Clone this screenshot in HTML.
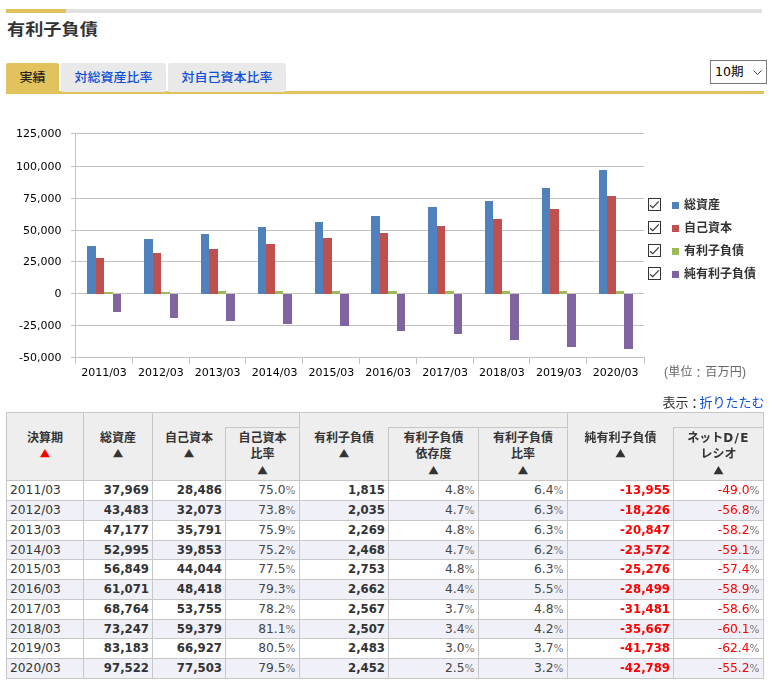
<!DOCTYPE html><html lang="ja"><head><meta charset="utf-8"><title>有利子負債</title><style>
html,body{margin:0;padding:0;background:#fff;}
body{width:772px;height:692px;position:relative;overflow:hidden;font-family:"Liberation Sans","Noto Sans CJK JP",sans-serif;color:#333;}
.abs{position:absolute;}
#bar{left:6px;top:9px;width:756px;height:4px;background:#e1e1e1;}
#bar i{display:block;width:60px;height:4px;background:#e2c25c;}
h2{position:absolute;left:7px;top:15.2px;margin:0;font:bold 18px/26px "Noto Sans CJK JP",sans-serif;color:#333;white-space:nowrap;transform:scale(1.01,0.88);transform-origin:0 50%;}
#tabs{margin:0;padding:0;list-style:none;left:6px;top:63px;width:758px;height:28px;border-bottom:3px solid #e2c25c;}
.tab{position:absolute;top:0;height:29px;line-height:28px;font-size:13px;font-weight:500;text-align:center;background:#e9e9e9;color:#0d4ed6;border-radius:2px;white-space:nowrap;font-family:"Noto Sans CJK JP",sans-serif;}
.tab a,.tab span{display:inline-block;transform:scaleY(0.93);transform-origin:50% 75%;}
.tab.on{background:#e2c25c;color:#222;border-radius:2px 2px 0 0;}
#sel{left:710px;top:60px;width:55px;height:22px;border:1px solid #767676;background:#fff;font:12.5px/21px "DejaVu Sans","Noto Sans CJK JP",sans-serif;color:#000;white-space:nowrap;}
#sel span{position:absolute;left:4px;top:0;}
#sel svg{position:absolute;left:42px;top:9px;}
svg text{font-family:"DejaVu Sans","Liberation Sans",sans-serif;font-size:11px;fill:#000;}
.lg{will-change:transform;position:absolute;left:684px;font:bold 12px/16px "Noto Sans CJK JP",sans-serif;color:#333;white-space:nowrap;}
.cb{position:absolute;left:648px;width:11px;height:11px;border:1px solid #333;background:#fff;}
.sq{position:absolute;left:672px;width:7px;height:7px;}
#unit{left:664px;top:363px;font:12px/18px "Liberation Sans","Noto Sans CJK JP",sans-serif;color:#666;white-space:nowrap;letter-spacing:0.3px;}
#disp{right:7.5px;top:392px;font:13px/19px "Noto Sans CJK JP",sans-serif;color:#333;white-space:nowrap;}
#disp a{color:#0d4ed6;text-decoration:none;}
#disp i,#unit i{font-style:normal;position:relative;top:1px;left:0.5px;margin:0 -1px;}
#unit i{margin:0;left:-0.5px;top:1.5px;}
#tbl{display:block;left:6px;top:412px;width:758px;height:267px;background:#c7c7c7;border-spacing:0;}
#tbl thead,#tbl tbody,#tbl tr,#tbl th.g{display:contents;}
.hc{display:block;position:absolute;background:#eee;padding:0;}
.ht{position:absolute;left:0;right:0;text-align:center;font:bold 12px/17px "Noto Sans CJK JP","DejaVu Sans",sans-serif;color:#333;white-space:nowrap;}
.ht b{display:block;font:12px/17px "DejaVu Sans",sans-serif;height:17px;transform:translateY(-0.4px) scale(1.08,0.92);}
.ht em{font:bold 12px/17px "DejaVu Sans",sans-serif;letter-spacing:1.3px;}
.ht b.r{color:#f00;}
.ht b.t3{transform:translateY(0) scale(1.08,0.9);}
.c{display:block;position:absolute;padding:0;background:#fff;font:12.25px/19px "DejaVu Sans","Noto Sans CJK JP",sans-serif;white-space:nowrap;overflow:hidden;color:#444;text-align:right;}
tr.e .c{background:#f0f0f8;}
.c span{display:block;padding:0 3px 0 0;}
.c.y{text-align:left;color:#333;}
.c.y span{padding:0 0 0 3px;}
.c.b{font:bold 13px/17px "DejaVu Sans Condensed","DejaVu Sans","Noto Sans CJK JP",sans-serif;color:#333;}
.c.n{color:#f00;}
.c.n.b{color:#f00;}
.c small{font-size:10.5px;color:#777;margin-right:0.5px;}
</style></head><body>
<div id="bar" class="abs"><i></i></div>
<h2>有利子負債</h2>
<ul id="tabs" class="abs">
<li class="tab on" style="left:0;width:53px"><span>実績</span></li>
<li class="tab" style="left:55px;width:105px"><a>対総資産比率</a></li>
<li class="tab" style="left:162px;width:118px"><a>対自己資本比率</a></li>
</ul>
<div id="sel" class="abs"><span>10期</span><svg width="10" height="6" viewBox="0 0 10 6"><path d="M0.5 0.5 L4.5 4.5 L8.5 0.5" fill="none" stroke="#444" stroke-width="1"/></svg></div>
<svg class="abs" style="left:0;top:120px;will-change:transform" width="772" height="270" viewBox="0 120 772 270" shape-rendering="crispEdges"><rect x="71" y="133" width="573" height="1" fill="#c3c3c3"/><rect x="71" y="166" width="573" height="1" fill="#c3c3c3"/><rect x="71" y="198" width="573" height="1" fill="#c3c3c3"/><rect x="71" y="230" width="573" height="1" fill="#c3c3c3"/><rect x="71" y="261" width="573" height="1" fill="#c3c3c3"/><rect x="71" y="293" width="573" height="1" fill="#c3c3c3"/><rect x="71" y="325" width="573" height="1" fill="#c3c3c3"/><rect x="71" y="357" width="573" height="1" fill="#c3c3c3"/><rect x="75" y="133" width="1" height="231" fill="#c3c3c3"/><rect x="75" y="357" width="1" height="7" fill="#c3c3c3"/><rect x="132" y="357" width="1" height="7" fill="#c3c3c3"/><rect x="189" y="357" width="1" height="7" fill="#c3c3c3"/><rect x="245" y="357" width="1" height="7" fill="#c3c3c3"/><rect x="302" y="357" width="1" height="7" fill="#c3c3c3"/><rect x="359" y="357" width="1" height="7" fill="#c3c3c3"/><rect x="416" y="357" width="1" height="7" fill="#c3c3c3"/><rect x="473" y="357" width="1" height="7" fill="#c3c3c3"/><rect x="529" y="357" width="1" height="7" fill="#c3c3c3"/><rect x="586" y="357" width="1" height="7" fill="#c3c3c3"/><rect x="644" y="357" width="1" height="7" fill="#c3c3c3"/><rect x="87" y="246" width="9" height="48" fill="#4f81bd"/><rect x="96" y="258" width="8" height="36" fill="#c0504d"/><rect x="104" y="292" width="9" height="2" fill="#9bbb59"/><rect x="113" y="294" width="8" height="18" fill="#8064a2"/><rect x="144" y="239" width="9" height="55" fill="#4f81bd"/><rect x="153" y="253" width="8" height="41" fill="#c0504d"/><rect x="161" y="292" width="9" height="2" fill="#9bbb59"/><rect x="170" y="294" width="8" height="24" fill="#8064a2"/><rect x="201" y="234" width="8" height="60" fill="#4f81bd"/><rect x="209" y="249" width="9" height="45" fill="#c0504d"/><rect x="218" y="291" width="8" height="3" fill="#9bbb59"/><rect x="226" y="294" width="9" height="27" fill="#8064a2"/><rect x="258" y="227" width="8" height="67" fill="#4f81bd"/><rect x="266" y="244" width="9" height="50" fill="#c0504d"/><rect x="275" y="291" width="8" height="3" fill="#9bbb59"/><rect x="283" y="294" width="9" height="30" fill="#8064a2"/><rect x="315" y="222" width="8" height="72" fill="#4f81bd"/><rect x="323" y="238" width="9" height="56" fill="#c0504d"/><rect x="332" y="291" width="8" height="3" fill="#9bbb59"/><rect x="340" y="294" width="9" height="32" fill="#8064a2"/><rect x="371" y="216" width="9" height="78" fill="#4f81bd"/><rect x="380" y="233" width="8" height="61" fill="#c0504d"/><rect x="388" y="291" width="9" height="3" fill="#9bbb59"/><rect x="397" y="294" width="8" height="37" fill="#8064a2"/><rect x="428" y="207" width="9" height="87" fill="#4f81bd"/><rect x="437" y="226" width="8" height="68" fill="#c0504d"/><rect x="445" y="291" width="9" height="3" fill="#9bbb59"/><rect x="454" y="294" width="8" height="40" fill="#8064a2"/><rect x="485" y="201" width="8" height="93" fill="#4f81bd"/><rect x="493" y="219" width="9" height="75" fill="#c0504d"/><rect x="502" y="291" width="8" height="3" fill="#9bbb59"/><rect x="510" y="294" width="9" height="46" fill="#8064a2"/><rect x="542" y="188" width="8" height="106" fill="#4f81bd"/><rect x="550" y="209" width="9" height="85" fill="#c0504d"/><rect x="559" y="291" width="8" height="3" fill="#9bbb59"/><rect x="567" y="294" width="9" height="53" fill="#8064a2"/><rect x="599" y="170" width="8" height="124" fill="#4f81bd"/><rect x="607" y="196" width="9" height="98" fill="#c0504d"/><rect x="616" y="291" width="8" height="3" fill="#9bbb59"/><rect x="624" y="294" width="9" height="55" fill="#8064a2"/><text x="61.5" y="136.9" text-anchor="end">125,000</text><text x="61.5" y="169.9" text-anchor="end">100,000</text><text x="61.5" y="201.9" text-anchor="end">75,000</text><text x="61.5" y="233.9" text-anchor="end">50,000</text><text x="61.5" y="264.9" text-anchor="end">25,000</text><text x="61.5" y="296.9" text-anchor="end">0</text><text x="61.5" y="328.9" text-anchor="end">-25,000</text><text x="61.5" y="360.9" text-anchor="end">-50,000</text><text x="104.0" y="376" text-anchor="middle">2011/03</text><text x="160.8" y="376" text-anchor="middle">2012/03</text><text x="217.7" y="376" text-anchor="middle">2013/03</text><text x="274.6" y="376" text-anchor="middle">2014/03</text><text x="331.4" y="376" text-anchor="middle">2015/03</text><text x="388.2" y="376" text-anchor="middle">2016/03</text><text x="445.1" y="376" text-anchor="middle">2017/03</text><text x="501.9" y="376" text-anchor="middle">2018/03</text><text x="558.8" y="376" text-anchor="middle">2019/03</text><text x="615.7" y="376" text-anchor="middle">2020/03</text></svg>
<div class="cb" style="top:198px"><svg width="11" height="11" viewBox="0 0 11 11" style="display:block"><path d="M1 6.2 L3.8 8.6 L9.8 2.4" fill="none" stroke="#3a3a3a" stroke-width="1.2"/></svg></div>
<div class="sq" style="top:202px;background:#4f81bd"></div>
<div class="lg" style="top:195.5px">総資産</div>
<div class="cb" style="top:221px"><svg width="11" height="11" viewBox="0 0 11 11" style="display:block"><path d="M1 6.2 L3.8 8.6 L9.8 2.4" fill="none" stroke="#3a3a3a" stroke-width="1.2"/></svg></div>
<div class="sq" style="top:225px;background:#c0504d"></div>
<div class="lg" style="top:218.5px">自己資本</div>
<div class="cb" style="top:244px"><svg width="11" height="11" viewBox="0 0 11 11" style="display:block"><path d="M1 6.2 L3.8 8.6 L9.8 2.4" fill="none" stroke="#3a3a3a" stroke-width="1.2"/></svg></div>
<div class="sq" style="top:248px;background:#9bbb59"></div>
<div class="lg" style="top:241.5px">有利子負債</div>
<div class="cb" style="top:267px"><svg width="11" height="11" viewBox="0 0 11 11" style="display:block"><path d="M1 6.2 L3.8 8.6 L9.8 2.4" fill="none" stroke="#3a3a3a" stroke-width="1.2"/></svg></div>
<div class="sq" style="top:271px;background:#8064a2"></div>
<div class="lg" style="top:264.5px">純有利子負債</div>
<div id="unit" class="abs">(単位<i>：</i>百万円)</div>
<div id="disp" class="abs">表示<i>：</i><a>折りたたむ</a></div>
<table id="tbl" class="abs"><thead><tr><th class="hc" style="left:1px;top:1px;width:76px;height:67px"><div class="ht" style="top:15.0px"><div style="height:17px">決算期</div><b class="r">▲</b></div></th><th class="hc" style="left:78px;top:1px;width:68px;height:67px"><div class="ht" style="top:15.0px"><div style="height:17px">総資産</div><b class="">▲</b></div></th><th class="g" colspan="2"><div class="hc" style="left:147px;top:1px;width:146px;height:67px"></div><div class="abs" style="left:219px;top:15px;width:74px;height:53px;background:#c7c7c7"></div><div class="hc" style="left:147px;top:1px;width:72px;height:67px"><div class="ht" style="top:15.0px"><div style="height:17px">自己資本</div><b class="">▲</b></div></div><div class="hc" style="left:220px;top:16px;width:73px;height:52px"><div class="ht" style="top:-0.5px"><div style="height:16.7px">自己資本</div><div style="height:16.7px">比率</div><b class="t3">▲</b></div></div></th><th class="g" colspan="3"><div class="hc" style="left:294px;top:1px;width:267px;height:67px"></div><div class="abs" style="left:382px;top:15px;width:179px;height:53px;background:#c7c7c7"></div><div class="hc" style="left:294px;top:1px;width:88px;height:67px"><div class="ht" style="top:15.0px"><div style="height:17px">有利子負債</div><b class="">▲</b></div></div><div class="hc" style="left:383px;top:16px;width:89px;height:52px"><div class="ht" style="top:-0.5px"><div style="height:16.7px">有利子負債</div><div style="height:16.7px">依存度</div><b class="t3">▲</b></div></div><div class="hc" style="left:473px;top:16px;width:88px;height:52px"><div class="ht" style="top:-0.5px"><div style="height:16.7px">有利子負債</div><div style="height:16.7px">比率</div><b class="t3">▲</b></div></div></th><th class="g" colspan="2"><div class="hc" style="left:562px;top:1px;width:195px;height:67px"></div><div class="abs" style="left:667px;top:15px;width:90px;height:53px;background:#c7c7c7"></div><div class="hc" style="left:562px;top:1px;width:105px;height:67px"><div class="ht" style="top:15.0px"><div style="height:17px">純有利子負債</div><b class="">▲</b></div></div><div class="hc" style="left:668px;top:16px;width:89px;height:52px"><div class="ht" style="top:-0.5px"><div style="height:16.7px">ネット<em>D/E</em></div><div style="height:16.7px">レシオ</div><b class="t3">▲</b></div></div></th></tr></thead><tbody><tr><td class="c y" style="left:1px;top:69px;width:76px;height:19px"><span>2011/03</span></td><td class="c b" style="left:78px;top:69px;width:68px;height:19px"><span>37,969</span></td><td class="c b" style="left:147px;top:69px;width:72px;height:19px"><span>28,486</span></td><td class="c" style="left:220px;top:69px;width:73px;height:19px"><span>75.0<small>%</small></span></td><td class="c b" style="left:294px;top:69px;width:88px;height:19px"><span>1,815</span></td><td class="c" style="left:383px;top:69px;width:89px;height:19px"><span>4.8<small>%</small></span></td><td class="c" style="left:473px;top:69px;width:88px;height:19px"><span>6.4<small>%</small></span></td><td class="c b n" style="left:562px;top:69px;width:105px;height:19px"><span>-13,955</span></td><td class="c n" style="left:668px;top:69px;width:89px;height:19px"><span>-49.0<small>%</small></span></td></tr><tr class="e"><td class="c y" style="left:1px;top:89px;width:76px;height:19px"><span>2012/03</span></td><td class="c b" style="left:78px;top:89px;width:68px;height:19px"><span>43,483</span></td><td class="c b" style="left:147px;top:89px;width:72px;height:19px"><span>32,073</span></td><td class="c" style="left:220px;top:89px;width:73px;height:19px"><span>73.8<small>%</small></span></td><td class="c b" style="left:294px;top:89px;width:88px;height:19px"><span>2,035</span></td><td class="c" style="left:383px;top:89px;width:89px;height:19px"><span>4.7<small>%</small></span></td><td class="c" style="left:473px;top:89px;width:88px;height:19px"><span>6.3<small>%</small></span></td><td class="c b n" style="left:562px;top:89px;width:105px;height:19px"><span>-18,226</span></td><td class="c n" style="left:668px;top:89px;width:89px;height:19px"><span>-56.8<small>%</small></span></td></tr><tr><td class="c y" style="left:1px;top:109px;width:76px;height:19px"><span>2013/03</span></td><td class="c b" style="left:78px;top:109px;width:68px;height:19px"><span>47,177</span></td><td class="c b" style="left:147px;top:109px;width:72px;height:19px"><span>35,791</span></td><td class="c" style="left:220px;top:109px;width:73px;height:19px"><span>75.9<small>%</small></span></td><td class="c b" style="left:294px;top:109px;width:88px;height:19px"><span>2,269</span></td><td class="c" style="left:383px;top:109px;width:89px;height:19px"><span>4.8<small>%</small></span></td><td class="c" style="left:473px;top:109px;width:88px;height:19px"><span>6.3<small>%</small></span></td><td class="c b n" style="left:562px;top:109px;width:105px;height:19px"><span>-20,847</span></td><td class="c n" style="left:668px;top:109px;width:89px;height:19px"><span>-58.2<small>%</small></span></td></tr><tr class="e"><td class="c y" style="left:1px;top:129px;width:76px;height:18px"><span>2014/03</span></td><td class="c b" style="left:78px;top:129px;width:68px;height:18px"><span>52,995</span></td><td class="c b" style="left:147px;top:129px;width:72px;height:18px"><span>39,853</span></td><td class="c" style="left:220px;top:129px;width:73px;height:18px"><span>75.2<small>%</small></span></td><td class="c b" style="left:294px;top:129px;width:88px;height:18px"><span>2,468</span></td><td class="c" style="left:383px;top:129px;width:89px;height:18px"><span>4.7<small>%</small></span></td><td class="c" style="left:473px;top:129px;width:88px;height:18px"><span>6.2<small>%</small></span></td><td class="c b n" style="left:562px;top:129px;width:105px;height:18px"><span>-23,572</span></td><td class="c n" style="left:668px;top:129px;width:89px;height:18px"><span>-59.1<small>%</small></span></td></tr><tr><td class="c y" style="left:1px;top:148px;width:76px;height:19px"><span>2015/03</span></td><td class="c b" style="left:78px;top:148px;width:68px;height:19px"><span>56,849</span></td><td class="c b" style="left:147px;top:148px;width:72px;height:19px"><span>44,044</span></td><td class="c" style="left:220px;top:148px;width:73px;height:19px"><span>77.5<small>%</small></span></td><td class="c b" style="left:294px;top:148px;width:88px;height:19px"><span>2,753</span></td><td class="c" style="left:383px;top:148px;width:89px;height:19px"><span>4.8<small>%</small></span></td><td class="c" style="left:473px;top:148px;width:88px;height:19px"><span>6.3<small>%</small></span></td><td class="c b n" style="left:562px;top:148px;width:105px;height:19px"><span>-25,276</span></td><td class="c n" style="left:668px;top:148px;width:89px;height:19px"><span>-57.4<small>%</small></span></td></tr><tr class="e"><td class="c y" style="left:1px;top:168px;width:76px;height:19px"><span>2016/03</span></td><td class="c b" style="left:78px;top:168px;width:68px;height:19px"><span>61,071</span></td><td class="c b" style="left:147px;top:168px;width:72px;height:19px"><span>48,418</span></td><td class="c" style="left:220px;top:168px;width:73px;height:19px"><span>79.3<small>%</small></span></td><td class="c b" style="left:294px;top:168px;width:88px;height:19px"><span>2,662</span></td><td class="c" style="left:383px;top:168px;width:89px;height:19px"><span>4.4<small>%</small></span></td><td class="c" style="left:473px;top:168px;width:88px;height:19px"><span>5.5<small>%</small></span></td><td class="c b n" style="left:562px;top:168px;width:105px;height:19px"><span>-28,499</span></td><td class="c n" style="left:668px;top:168px;width:89px;height:19px"><span>-58.9<small>%</small></span></td></tr><tr><td class="c y" style="left:1px;top:188px;width:76px;height:19px"><span>2017/03</span></td><td class="c b" style="left:78px;top:188px;width:68px;height:19px"><span>68,764</span></td><td class="c b" style="left:147px;top:188px;width:72px;height:19px"><span>53,755</span></td><td class="c" style="left:220px;top:188px;width:73px;height:19px"><span>78.2<small>%</small></span></td><td class="c b" style="left:294px;top:188px;width:88px;height:19px"><span>2,567</span></td><td class="c" style="left:383px;top:188px;width:89px;height:19px"><span>3.7<small>%</small></span></td><td class="c" style="left:473px;top:188px;width:88px;height:19px"><span>4.8<small>%</small></span></td><td class="c b n" style="left:562px;top:188px;width:105px;height:19px"><span>-31,481</span></td><td class="c n" style="left:668px;top:188px;width:89px;height:19px"><span>-58.6<small>%</small></span></td></tr><tr class="e"><td class="c y" style="left:1px;top:208px;width:76px;height:18px"><span>2018/03</span></td><td class="c b" style="left:78px;top:208px;width:68px;height:18px"><span>73,247</span></td><td class="c b" style="left:147px;top:208px;width:72px;height:18px"><span>59,379</span></td><td class="c" style="left:220px;top:208px;width:73px;height:18px"><span>81.1<small>%</small></span></td><td class="c b" style="left:294px;top:208px;width:88px;height:18px"><span>2,507</span></td><td class="c" style="left:383px;top:208px;width:89px;height:18px"><span>3.4<small>%</small></span></td><td class="c" style="left:473px;top:208px;width:88px;height:18px"><span>4.2<small>%</small></span></td><td class="c b n" style="left:562px;top:208px;width:105px;height:18px"><span>-35,667</span></td><td class="c n" style="left:668px;top:208px;width:89px;height:18px"><span>-60.1<small>%</small></span></td></tr><tr><td class="c y" style="left:1px;top:227px;width:76px;height:19px"><span>2019/03</span></td><td class="c b" style="left:78px;top:227px;width:68px;height:19px"><span>83,183</span></td><td class="c b" style="left:147px;top:227px;width:72px;height:19px"><span>66,927</span></td><td class="c" style="left:220px;top:227px;width:73px;height:19px"><span>80.5<small>%</small></span></td><td class="c b" style="left:294px;top:227px;width:88px;height:19px"><span>2,483</span></td><td class="c" style="left:383px;top:227px;width:89px;height:19px"><span>3.0<small>%</small></span></td><td class="c" style="left:473px;top:227px;width:88px;height:19px"><span>3.7<small>%</small></span></td><td class="c b n" style="left:562px;top:227px;width:105px;height:19px"><span>-41,738</span></td><td class="c n" style="left:668px;top:227px;width:89px;height:19px"><span>-62.4<small>%</small></span></td></tr><tr class="e"><td class="c y" style="left:1px;top:247px;width:76px;height:19px"><span>2020/03</span></td><td class="c b" style="left:78px;top:247px;width:68px;height:19px"><span>97,522</span></td><td class="c b" style="left:147px;top:247px;width:72px;height:19px"><span>77,503</span></td><td class="c" style="left:220px;top:247px;width:73px;height:19px"><span>79.5<small>%</small></span></td><td class="c b" style="left:294px;top:247px;width:88px;height:19px"><span>2,452</span></td><td class="c" style="left:383px;top:247px;width:89px;height:19px"><span>2.5<small>%</small></span></td><td class="c" style="left:473px;top:247px;width:88px;height:19px"><span>3.2<small>%</small></span></td><td class="c b n" style="left:562px;top:247px;width:105px;height:19px"><span>-42,789</span></td><td class="c n" style="left:668px;top:247px;width:89px;height:19px"><span>-55.2<small>%</small></span></td></tr></tbody></table>
</body></html>
